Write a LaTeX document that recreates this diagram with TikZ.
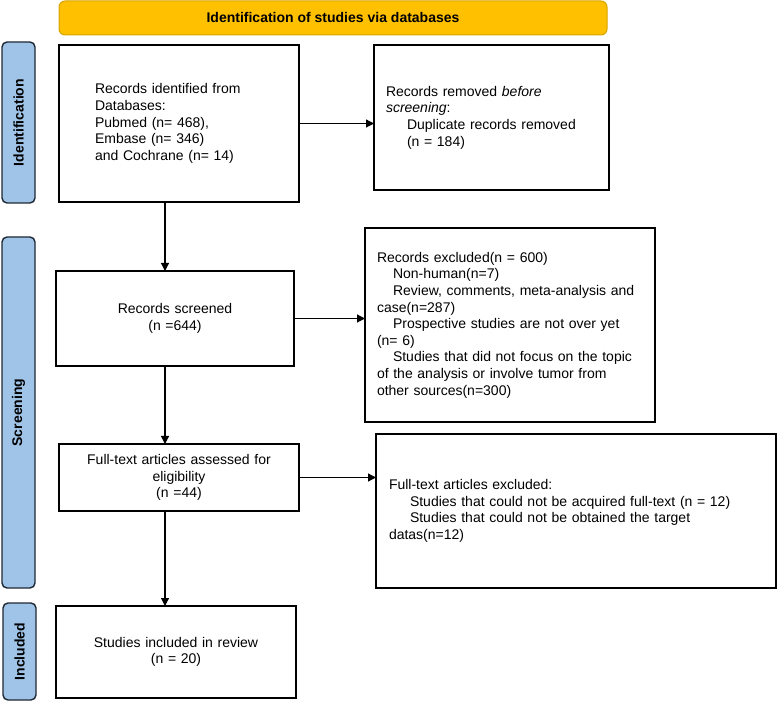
\documentclass[tikz,border=0pt]{standalone}
\usepackage{fontspec}
\setmainfont{Liberation Sans}
\usetikzlibrary{arrows.meta}
\definecolor{bannerfill}{HTML}{FFC000}
\definecolor{bannerline}{HTML}{D9A400}
\definecolor{barfill}{HTML}{A0C4E8}
\definecolor{barline}{HTML}{1E2833}
\begin{document}
\begin{tikzpicture}[x=1pt,y=-1pt,
  box/.style={draw=black, line width=1.6pt, fill=white, inner sep=0pt, outer sep=0pt,
    font=\fontsize{14}{16.6}\selectfont},
  leftbox/.style={box, align=left},
  centerbox/.style={box, align=center},
  bar/.style={draw=barline, line width=1.4pt, fill=barfill, rounded corners=5pt,
    rotate=90, inner sep=0pt, outer sep=0pt, minimum height=33pt,
    font=\bfseries\fontsize{14}{16}\selectfont},
  arr/.style={line width=1.2pt, -{Triangle[length=8pt,width=8pt]}}]
\useasboundingbox (0,0) rectangle (777,703);

% banner
\node[draw=bannerline, fill=bannerfill, rounded corners=6pt, line width=1pt,
  minimum width=548pt, minimum height=34pt, inner sep=0pt,
  font=\bfseries\fontsize{14}{16}\selectfont] (banner) at (333,18)
  {Identification of studies via databases};

% side bars
\node[bar, minimum width=161pt] (idbar) at (18.5,122.5) {Identification};
\node[bar, minimum width=351pt] (scbar) at (18.5,412.5) {Screening};
\node[bar, minimum width=97pt]  (inbar) at (19.5,651.5) {Included};

% boxes
\node[leftbox, minimum width=240pt, minimum height=157pt, inner xsep=36pt, text width=168pt]
  (A) at (179,123.5)
  {Records identified from\\Databases:\\Pubmed (n= 468),\\Embase (n= 346)\\and Cochrane (n= 14)};

\node[leftbox, minimum width=235pt, minimum height=145pt, inner xsep=12pt, text width=211pt]
  (B) at (491.5,117.5)
  {Records removed \textit{before}\\\textit{screening}:\\\hspace*{21pt}Duplicate records removed\\\hspace*{21pt}(n = 184)};

\node[leftbox, minimum width=290pt, minimum height=194pt, inner xsep=12pt, text width=266pt]
  (C) at (510,325)
  {Records excluded(n = 600)\\
   \hspace*{16pt}Non-human(n=7)\\
   \hspace*{16pt}Review, comments, meta-analysis and\\
   case(n=287)\\
   \hspace*{16pt}Prospective studies are not over yet\\
   (n= 6)\\
   \hspace*{16pt}Studies that did not focus on the topic\\
   of the analysis or involve tumor from\\
   other sources(n=300)};

\node[centerbox, minimum width=238pt, minimum height=95pt, text width=210pt]
  (D) at (175,318.5) {Records screened\\(n =644)};

\node[centerbox, minimum width=240pt, minimum height=67pt, text width=220pt]
  (E) at (179,477.5) {Full-text articles assessed for\\eligibility\\(n =44)};

\node[leftbox, minimum width=400pt, minimum height=154pt, inner xsep=13pt, text width=374pt]
  (F) at (576,511)
  {Full-text articles excluded:\\
   \hspace*{21pt}Studies that could not be acquired full-text (n = 12)\\
   \hspace*{21pt}Studies that could not be obtained the target\\
   datas(n=12)};

\node[centerbox, minimum width=240pt, minimum height=92pt, text width=220pt]
  (G) at (176,652) {Studies included in review\\(n = 20)};

% connectors
\coordinate (spine) at (165,0);
\draw[arr] (A.south -| spine) -- (D.north -| spine);
\draw[arr] (D.south -| spine) -- (E.north -| spine);
\draw[arr] (E.south -| spine) -- (G.north -| spine);
\draw[arr] (A.east) -- (A.east -| B.west);
\draw[arr] (D.east) -- (D.east -| C.west);
\draw[arr] (E.east) -- (E.east -| F.west);
\end{tikzpicture}
\end{document}
